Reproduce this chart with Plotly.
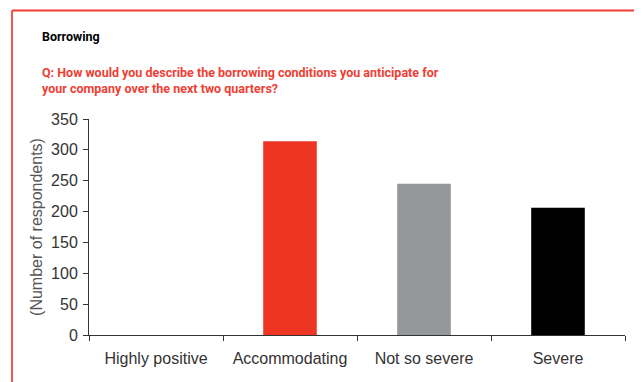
import plotly.graph_objects as go

categories = ["Highly positive", "Accommodating", "Not so severe", "Severe"]
respondents = [0, 314, 245, 206]
bar_colors = ["#ee3524", "#ee3524", "#96979a", "#000000"]
y_ticks = [0, 50, 100, 150, 200, 250, 300, 350]

OFF = 8  # page body margin
W, H = 642 - OFF, 382 - OFF
L, R, T, B = 89 - OFF, 17, 119 - OFF, 47
pw, ph = W - L - R, H - T - B

def px(x):
    return (x - OFF - L) / pw

def py(y):
    return 1 - (y - OFF - T) / ph

fig = go.Figure(go.Bar(
    x=categories, y=respondents, marker=dict(color=bar_colors, line=dict(width=0)),
    width=0.4,
))

font_fam = "Liberation Sans, Arial, sans-serif"
title_fam = "Roboto, Liberation Sans, Arial, sans-serif"

fig.update_layout(
    width=W, height=H,
    margin=dict(l=L, r=R, t=T, b=B),
    paper_bgcolor="white", plot_bgcolor="white",
    showlegend=False,
    font=dict(family=font_fam, size=16, color="#333333"),
    xaxis=dict(
        showline=True, linecolor="#333333", linewidth=1,
        ticks="outside", ticklen=5, tickcolor="#333333", tickson="boundaries",
        tickfont=dict(size=16, color="#333333"), showgrid=False,
        ticklabelstandoff=9,
    ),
    yaxis=dict(
        range=[0, 350], tickvals=y_ticks,
        showline=True, linecolor="#333333", linewidth=1,
        ticks="outside", ticklen=5, tickcolor="#333333",
        tickfont=dict(size=16, color="#333333"), showgrid=False, zeroline=False,
        ticklabelstandoff=2,
        title=dict(text="(Number of respondents)", font=dict(size=16, color="#555555"), standoff=4),
    ),
    shapes=[
        dict(type="line", xref="paper", yref="paper", x0=px(12), x1=px(12), y0=py(10.5), y1=py(400),
             line=dict(color="#ef5a50", width=2)),
        dict(type="line", xref="paper", yref="paper", x0=px(12), x1=px(660), y0=py(10.5), y1=py(10.5),
             line=dict(color="#ef3e33", width=2)),
    ],
    annotations=[
        dict(text="<b>Borrowing</b>", xref="paper", yref="paper", x=px(40), y=py(37),
             xanchor="left", yanchor="middle", showarrow=False,
             font=dict(family=title_fam, size=12.5, color="#000000")),
        dict(text="<b>Q: How would you describe the borrowing conditions you anticipate for<br>your company over the next two quarters?</b>",
             xref="paper", yref="paper", x=px(40), y=py(81), xanchor="left", yanchor="middle",
             align="left", showarrow=False,
             font=dict(family=title_fam, size=12.5, color="#ef3e33")),
    ],
)

fig.write_html("out.html")
